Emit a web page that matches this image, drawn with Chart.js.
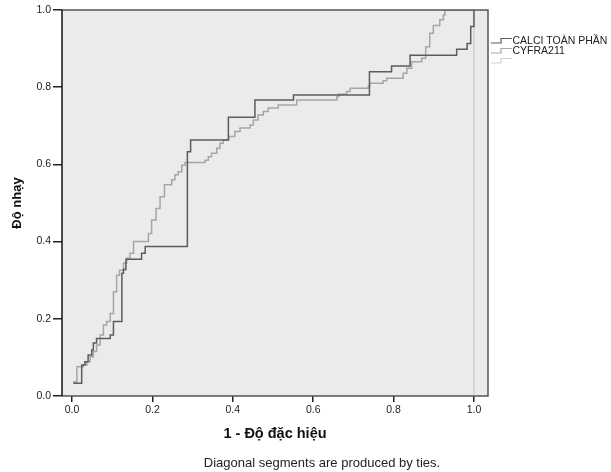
<!DOCTYPE html>
<html>
<head>
<meta charset="utf-8">
<script src="https://cdn.jsdelivr.net/npm/chart.js@4.4.1/dist/chart.umd.min.js"></script>
<style>
  html, body { margin: 0; padding: 0; background: #fff; }
  #wrap { width: 611px; height: 472px; }
</style>
</head>
<body>
<div id="wrap"><canvas id="chart" width="611" height="472"></canvas></div>
<script>
// ROC - step points (1 - specificity, sensitivity)
const calciX = [0.003, 0.024, 0.032, 0.040, 0.049, 0.053, 0.061, 0.095, 0.103, 0.124, 0.128, 0.134, 0.173, 0.182, 0.287, 0.295, 0.389, 0.455, 0.551, 0.740, 0.795, 0.841, 0.957, 0.983, 0.992, 1.000];
const calciY = [0.033, 0.080, 0.089, 0.106, 0.119, 0.137, 0.149, 0.158, 0.193, 0.318, 0.328, 0.354, 0.370, 0.387, 0.633, 0.663, 0.722, 0.767, 0.780, 0.840, 0.855, 0.883, 0.898, 0.913, 0.957, 1.000];

const cyfraX = [0.003, 0.012, 0.028, 0.037, 0.045, 0.053, 0.061, 0.070, 0.078, 0.086, 0.095, 0.103, 0.111, 0.118, 0.128, 0.136, 0.144, 0.153, 0.190, 0.198, 0.209, 0.219, 0.230, 0.248, 0.256, 0.264, 0.273, 0.281, 0.331, 0.339, 0.347, 0.360, 0.368, 0.376, 0.390, 0.405, 0.418, 0.443, 0.451, 0.463, 0.476, 0.488, 0.513, 0.559, 0.659, 0.663, 0.683, 0.692, 0.737, 0.741, 0.774, 0.783, 0.824, 0.833, 0.845, 0.870, 0.880, 0.890, 0.899, 0.915, 0.924, 0.928, 1.000];
const cyfraY = [0.037, 0.076, 0.080, 0.089, 0.102, 0.115, 0.132, 0.158, 0.184, 0.193, 0.214, 0.270, 0.313, 0.326, 0.344, 0.357, 0.370, 0.400, 0.421, 0.456, 0.486, 0.516, 0.547, 0.560, 0.573, 0.581, 0.598, 0.605, 0.611, 0.620, 0.629, 0.642, 0.655, 0.663, 0.672, 0.685, 0.694, 0.702, 0.715, 0.728, 0.737, 0.746, 0.754, 0.767, 0.775, 0.782, 0.789, 0.797, 0.803, 0.810, 0.817, 0.823, 0.836, 0.849, 0.866, 0.875, 0.905, 0.940, 0.960, 0.975, 0.987, 1.000, 1.000];

const refX = [1.0, 1.0];
const refY = [0.0, 1.0];

const seriesNames = ['CALCI TOÀN PHẦN', 'CYFRA211', ''];
const seriesColors = ['#5c5c5c', '#a6a6a6', '#d0d0d0'];
const tickValues = [0, 0.2, 0.4, 0.6, 0.8, 1.0];

function pts(xs, ys) {
    return xs.map(function(x, i) { return { x: x, y: ys[i] }; });
}

// khung + nen xam
const plotBg = {
    id: 'plotBg',
    beforeDatasetsDraw(chart) {
        const a = chart.chartArea, ctx = chart.ctx;
        ctx.save();
        ctx.fillStyle = '#ebebeb';
        ctx.fillRect(a.left, a.top, a.right - a.left, a.bottom - a.top);
        ctx.restore();
    },
    afterDatasetsDraw(chart) {
        const a = chart.chartArea, ctx = chart.ctx;
        ctx.save();
        ctx.strokeStyle = '#555';
        ctx.lineWidth = 1.5;
        ctx.beginPath();
        ctx.moveTo(a.left, a.top);
        ctx.lineTo(a.right, a.top);
        ctx.lineTo(a.right, a.bottom);
        ctx.lineTo(a.left, a.bottom);
        ctx.stroke();
        ctx.strokeStyle = '#111';
        ctx.beginPath();
        ctx.moveTo(a.left, a.top);
        ctx.lineTo(a.left, a.bottom);
        ctx.stroke();
        ctx.restore();
    }
};

// legend ben phai + chu thich duoi
const sideLegend = {
    id: 'sideLegend',
    afterDraw(chart) {
        const ctx = chart.ctx;
        ctx.save();
        ctx.font = '10.5px "Liberation Sans", Arial, sans-serif';
        ctx.textBaseline = 'middle';
        ctx.textAlign = 'left';
        for (let i = 0; i < seriesNames.length; i++) {
            const y = 41 + i * 10;
            ctx.strokeStyle = seriesColors[i];
            ctx.lineWidth = 1.2;
            ctx.beginPath();
            ctx.moveTo(491, y + 2);
            ctx.lineTo(501, y + 2);
            ctx.lineTo(501, y - 2.5);
            ctx.lineTo(512, y - 2.5);
            ctx.stroke();
            ctx.fillStyle = '#222';
            ctx.fillText(seriesNames[i], 512.5, y + 0.5);
        }
        ctx.font = '13px "Liberation Sans", Arial, sans-serif';
        ctx.textAlign = 'center';
        ctx.fillStyle = '#222';
        ctx.fillText('Diagonal segments are produced by ties.', 322, 463);
        ctx.restore();
    }
};

const ctx = document.getElementById('chart').getContext('2d');
const chart = new Chart(ctx, {
    type: 'line',
    data: {
        datasets: [
            {
                label: seriesNames[0],
                data: pts(calciX, calciY),
                borderColor: seriesColors[0],
                borderWidth: 1.5,
                stepped: 'before',
                pointRadius: 0,
                fill: false,
                order: 1
            },
            {
                label: seriesNames[1],
                data: pts(cyfraX, cyfraY),
                borderColor: seriesColors[1],
                borderWidth: 1.5,
                stepped: 'before',
                pointRadius: 0,
                fill: false,
                order: 2
            },
            {
                label: 'Reference',
                data: pts(refX, refY),
                borderColor: seriesColors[2],
                borderWidth: 1.5,
                pointRadius: 0,
                fill: false,
                order: 3
            }
        ]
    },
    options: {
        responsive: false,
        animation: false,
        layout: { padding: { top: 10, right: 123, left: 0, bottom: 0 } },
        plugins: {
            legend: { display: false },
            tooltip: { enabled: false }
        },
        scales: {
            x: {
                type: 'linear',
                min: -0.025,
                max: 1.035,
                afterBuildTicks: function(scale) {
                    scale.ticks = tickValues.map(function(v) { return { value: v }; });
                },
                afterFit: function(scale) { scale.height = 76; },
                border: { display: false },
                grid: { drawOnChartArea: false, tickLength: 6, color: '#222', lineWidth: 1.5 },
                ticks: {
                    padding: 2,
                    color: '#222',
                    font: { family: '"Liberation Sans", Arial, sans-serif', size: 10.5 },
                    callback: function(v) { return v.toFixed(1); }
                },
                title: {
                    display: true,
                    text: '1 - Độ đặc hiệu',
                    color: '#111',
                    font: { family: '"Liberation Sans", Arial, sans-serif', size: 14.5, weight: 'bold' },
                    padding: { top: 0, bottom: 29 }
                }
            },
            y: {
                type: 'linear',
                min: 0,
                max: 1,
                afterBuildTicks: function(scale) {
                    scale.ticks = tickValues.map(function(v) { return { value: v }; });
                },
                afterFit: function(scale) { scale.width = 62; },
                border: { display: false },
                grid: { drawOnChartArea: false, tickLength: 9, color: '#222', lineWidth: 1.5 },
                ticks: {
                    padding: 2,
                    color: '#222',
                    font: { family: '"Liberation Sans", Arial, sans-serif', size: 10.5 },
                    callback: function(v) { return v.toFixed(1); }
                },
                title: {
                    display: true,
                    text: 'Độ nhạy',
                    color: '#111',
                    font: { family: '"Liberation Sans", Arial, sans-serif', size: 13, weight: 'bold' },
                    padding: { top: 10, bottom: 0 }
                }
            }
        }
    },
    plugins: [plotBg, sideLegend]
});
</script>
</body>
</html>
